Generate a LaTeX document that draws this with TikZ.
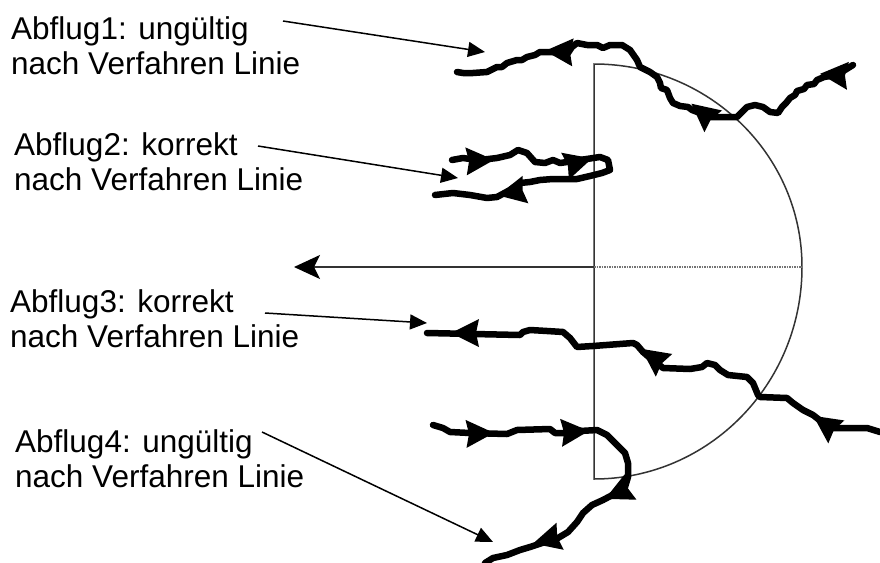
\documentclass[tikz,border=0pt]{standalone}
\usepackage{fontspec}
\setmainfont{Liberation Sans}
\usetikzlibrary{arrows.meta}
\newcommand\trkhead[3]{\fill[shift={(#1,#2)},rotate=#3] (2,0) -- (-26,-14) -- (-23,0) -- (-26,14) -- cycle;}
\begin{document}
\begin{tikzpicture}[x=1pt,y=-1pt,
  lbl/.style={anchor=base west,inner sep=0pt,font=\fontsize{31.5}{35}\selectfont},
  pointer/.style={line width=1.5pt,-{Triangle[length=17pt,width=15pt]}},
  track/.style={line width=6.5pt,line join=round,line cap=round},
  geo/.style={line width=1.5pt,draw=black!80},
  axisline/.style={line width=1.5pt,draw=black!80,-{Stealth[length=26pt,width=24pt,inset=6pt,color=black]}},
  dotline/.style={line width=1.5pt,draw=black!55,densely dotted}]
\useasboundingbox (0,0) rectangle (880,562);
\fill[white] (0,0) rectangle (880,562);

% labels
\node[lbl] (l1a) at (11,39) {Abflug1: ungültig};
\node[lbl] (l1b) at (11,74) {nach Verfahren Linie};
\node[lbl] (l2a) at (14,155) {Abflug2: korrekt};
\node[lbl] (l2b) at (14,190) {nach Verfahren Linie};
\node[lbl] (l3a) at (10,312) {Abflug3: korrekt};
\node[lbl] (l3b) at (10,347) {nach Verfahren Linie};
\node[lbl] (l4a) at (15,452) {Abflug4: ungültig};
\node[lbl] (l4b) at (15,487) {nach Verfahren Linie};

% geometry: protection area
\coordinate (c) at (594,267);
\coordinate (top) at (594,64);
\coordinate (bot) at (594,479);
\coordinate (rgt) at (802,267);
\coordinate (ax) at (294,267);
\draw[geo] (bot) -- (top) arc[start angle=-90,end angle=0,x radius=208,y radius=203]
  arc[start angle=0,end angle=90,x radius=208,y radius=212] -- cycle;
\draw[dotline] (c) -- (rgt);
\draw[axisline] (c) -- (ax);

% pointers
\coordinate (p1s) at (283,21);  \coordinate (p1e) at (485,52);
\coordinate (p2s) at (258,146); \coordinate (p2e) at (458,178);
\coordinate (p3s) at (265,313); \coordinate (p3e) at (427,323);
\coordinate (p4s) at (262,432); \coordinate (p4e) at (493,542);
\draw[pointer] (p1s) -- (p1e);
\draw[pointer] (p2s) -- (p2e);
\draw[pointer] (p3s) -- (p3e);
\draw[pointer] (p4s) -- (p4e);

% track 1
\draw[track] (853,65) -- (845,70) -- (840,73) -- (830,76) -- (824,77) -- (817,80) -- (814,84) -- (807,85) -- (804,89) -- (797,91) -- (795,95) -- (790,98) -- (786,103) -- (782,107) -- (778,113) -- (770,112) -- (763,107) -- (755,105) -- (747,107) -- (742,112) -- (737,117) -- (733,117) -- (707,117) -- (700,113) -- (692,110) -- (688,107) -- (680,106) -- (673,103) -- (670,98) -- (667,90) -- (661,88) -- (660,83) -- (657,77) -- (650,72) -- (640,67) -- (637,60) -- (630,50) -- (622,45) -- (610,45) -- (603,48) -- (597,45) -- (587,45) -- (577,43) -- (572,47) -- (568,53) -- (555,52) -- (540,52) -- (535,55) -- (527,57) -- (522,60) -- (517,60) -- (507,63) -- (502,67) -- (497,67) -- (487,72) -- (473,73) -- (463,73) -- (457,72);
\trkhead{822}{74}{176}
\trkhead{693}{105}{141}
\trkhead{547}{51}{177}

% track 2
\draw[track] (452,160) -- (463,158) -- (470,159) -- (480,160) -- (497,158) -- (510,155) -- (518,150) -- (527,153) -- (535,162) -- (545,163) -- (553,160) -- (560,163) -- (567,162) -- (580,160) -- (600,157) -- (608,160) -- (610,170) -- (602,173) -- (590,176) -- (577,179) -- (567,179) -- (553,179) -- (540,180) -- (530,182) -- (520,183) -- (510,190) -- (497,197) -- (487,198) -- (470,195) -- (453,193) -- (435,195);
\trkhead{492}{160}{3}
\trkhead{590}{159}{16}
\trkhead{500}{195}{192}

% track 3
\draw[track] (427,333) -- (520,335) -- (523,332) -- (530,330) -- (547,331) -- (563,332) -- (570,338) -- (577,347) -- (593,346) -- (633,343) -- (637,345) -- (643,352) -- (650,358) -- (657,363) -- (663,368) -- (690,369) -- (702,367) -- (707,363) -- (715,365) -- (720,370) -- (728,375) -- (747,377) -- (753,383) -- (758,395) -- (760,397) -- (787,398) -- (793,403) -- (803,410) -- (813,415) -- (822,422) -- (833,428) -- (867,428) -- (880,432);
\trkhead{453}{333}{180}
\trkhead{643}{350}{144}
\trkhead{815}{417}{145}

% track 4
\draw[track] (433,425) -- (443,428) -- (450,432) -- (470,433) -- (507,434) -- (517,430) -- (550,429) -- (555,433) -- (567,433) -- (580,431) -- (597,430) -- (607,435) -- (617,445) -- (625,453) -- (628,463) -- (628,477) -- (625,487) -- (618,492) -- (603,500) -- (592,505) -- (583,513) -- (577,522) -- (568,532) -- (558,538) -- (545,542) -- (530,547) -- (520,550) -- (507,555) -- (493,558) -- (485,563);
\trkhead{492}{433}{2}
\trkhead{587}{431}{4}
\trkhead{607}{498}{205}
\trkhead{535}{543}{195}
\end{tikzpicture}
\end{document}
